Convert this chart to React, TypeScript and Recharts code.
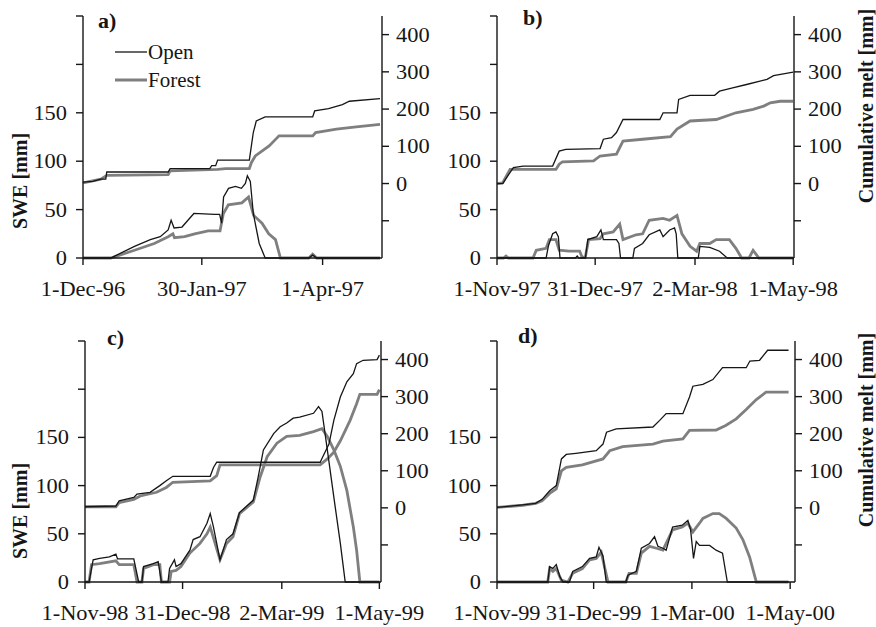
import { Legend, Line, LineChart, XAxis, YAxis } from "recharts";

type Pt = [number, number];

// x values are days since the first tick of each panel
// SWE on the left axis [mm], cumulative melt on the right axis [mm]

// a) winter 1996/97, day 0 = 1-Dec-96
const aTicks = [0, 60, 121];
const aTickLabels = ["1-Dec-96", "30-Jan-97", "1-Apr-97"];
const aOpenSwe: Pt[] = [
  [0, 0], [14, 0], [16, 2], [26, 12], [34, 19], [39, 22], [43, 29], [44.5, 39], [46, 31], [50, 32],
  [53, 39], [56, 46], [66.5, 45], [69, 45], [70, 36], [71, 63], [73.5, 72], [77, 74], [80, 72],
  [82, 77], [83, 85], [84.5, 79], [86, 46], [89, 15], [92, 0], [114, 0], [116, 3], [118, 0], [150, 0],
];
const aForestSwe: Pt[] = [
  [0, 0], [14, 0], [17, 2], [26, 8], [36, 15], [43, 22], [45.4, 25], [46.2, 21], [51.3, 22], [56.4, 25],
  [63.2, 28], [69.2, 28], [70.9, 46], [73.4, 55], [80.2, 57], [83.6, 63], [86.2, 44], [90.4, 36],
  [93.8, 25], [97.2, 19], [99.7, 0], [114, 0], [116, 4], [118, 0], [150, 0],
];
const aOpenCum: Pt[] = [
  [0, 4], [5, 6], [9, 12], [11.5, 12], [12, 31], [43, 31], [44, 40], [64, 40], [65, 48], [67, 48],
  [68, 63], [84, 63], [85, 100], [86, 137], [87.5, 168], [92, 179], [116, 179], [117, 195],
  [124, 201], [131, 212], [134.5, 221], [150, 228],
];
const aForestCum: Pt[] = [
  [0, 2], [9, 12], [12, 22], [43, 24], [44, 34], [68, 38], [72, 40], [84, 40], [85, 56], [87, 74],
  [94, 101], [99, 128], [116, 128], [117.5, 137], [128, 146], [138, 152], [150, 159],
];

// b) winter 1997/98, day 0 = 1-Nov-97
const bTicks = [0, 60, 121, 181];
const bTickLabels = ["1-Nov-97", "31-Dec-97", "2-Mar-98", "1-May-98"];
const bOpenSwe: Pt[] = [
  [0, 0], [30, 0], [31.5, 13], [34, 25], [36, 27], [37.5, 22], [38.5, 0], [48, 0], [49, 2], [50, 0],
  [54, 0], [55.5, 19], [61, 22], [63.5, 29], [65, 19], [73, 19], [74.5, 15], [75.5, 0], [83, 0],
  [84, 10], [89, 15], [93, 24], [99.5, 29], [101.5, 22], [105.5, 29], [108.5, 31], [109.5, 25],
  [110.5, 0], [123, 0], [124, 12], [130, 11], [136, 7], [140, 1], [141, 0], [181, 0],
];
const bForestSwe: Pt[] = [
  [0, 0], [4, 0], [5.5, 2], [7, 0], [22, 0], [24, 8], [30, 10], [32, 19], [36, 19], [38, 8], [44, 7],
  [50.5, 7], [52, 1], [54, 1], [56, 19], [63, 20], [65, 25], [71, 27], [75, 35], [77, 19], [85, 24],
  [89, 25], [93, 39], [101.5, 41], [105.5, 39], [110, 44], [113, 25], [118, 12], [122, 7], [124, 15],
  [130, 15], [134, 19], [142, 19], [146, 10], [149.5, 0], [154, 0], [156.5, 8], [160, 0], [181, 0],
];
const bOpenCum: Pt[] = [
  [0, 0], [3.5, 0], [6.5, 20], [10, 43], [16, 47], [34, 47], [38, 87], [42, 92], [63, 94], [65, 119],
  [70, 123], [73, 137], [77, 172], [99.5, 172], [101.5, 190], [110, 190], [111, 226], [118, 237],
  [133, 237], [136, 248], [144, 257], [152.5, 266], [165, 280], [169, 290], [181, 299],
];
const bForestCum: Pt[] = [
  [0, 0], [3.5, 2], [8, 38], [36, 38], [38, 52], [40, 58], [59, 61], [63, 74], [73, 79], [77, 114],
  [89, 119], [106, 126], [110, 146], [118, 168], [134, 172], [146, 190], [156.5, 199], [163, 208],
  [167, 217], [173, 221], [181, 221],
];

// c) winter 1998/99, day 0 = 1-Nov-98
const cTicks = [0, 60, 121, 181];
const cTickLabels = ["1-Nov-98", "31-Dec-98", "2-Mar-99", "1-May-99"];
const cOpenSwe: Pt[] = [
  [0, 0], [2.5, 0], [5, 23], [9, 24.5], [15, 26], [19, 29], [20, 24], [30, 24], [33, 0], [35, 0],
  [36, 16], [42, 19], [45, 21], [47, 0], [51, 0], [52, 14], [55, 23], [56, 16], [59, 19], [64.5, 33],
  [66.5, 44], [70.7, 47], [75, 61], [77, 71], [79, 57], [83, 23], [87, 44], [91, 50], [95, 72],
  [103.5, 85], [106.5, 109], [109.7, 137], [116, 154], [120, 161], [124, 165], [128, 170], [132, 171],
  [140.5, 175], [143.6, 182], [145.7, 177], [149, 137], [153, 88], [157, 40], [160, 0], [181, 0],
];
const cForestSwe: Pt[] = [
  [0, 0], [2.5, 0], [4, 18], [9, 19], [19, 22], [21, 18], [30, 18], [32, 0], [35, 0], [36, 14],
  [42, 18], [46, 18], [47, 0], [52, 0], [53, 11], [56, 12], [59, 16], [64.5, 30], [70.7, 40], [75, 50],
  [77, 57], [80, 40], [83, 23], [87, 40], [91, 47], [95, 71], [103.5, 83], [107.7, 109], [112, 130],
  [118, 144], [124, 151], [132, 152], [140.5, 156], [145.7, 159], [149, 151], [153, 137], [157, 120],
  [161, 95], [165, 57], [167, 33], [169, 0], [181, 0],
];
const cOpenCum: Pt[] = [
  [0, 3], [19, 5], [21, 19], [30, 28], [32, 37], [40, 42], [46, 60], [50, 73], [54, 85], [77, 85],
  [79, 109], [81, 123], [144.6, 123], [146, 136], [150, 172], [153, 236], [157, 299], [161, 340],
  [165, 362], [167, 389], [171, 398], [179.6, 400], [181, 412],
];
const cForestCum: Pt[] = [
  [0, 3], [19, 3], [21, 14], [30, 23], [34, 32], [44, 42], [50, 55], [54, 69], [77, 73], [81, 87],
  [83, 116], [144.6, 116], [149, 132], [153, 150], [157, 181], [163, 236], [167, 281], [169, 306],
  [179.6, 306], [181, 319],
];

// d) winter 1999/2000, day 0 = 1-Nov-99
const dTicks = [0, 60, 121, 182];
const dTickLabels = ["1-Nov-99", "31-Dec-99", "1-Mar-00", "1-May-00"];
const dOpenSwe: Pt[] = [
  [0, 0], [31.5, 0], [32.7, 16], [34.7, 14], [36.8, 18], [39, 5.5], [41, 0], [45, 0], [47, 11],
  [53, 16], [57.5, 24.5], [61.6, 26], [63.3, 36], [65.8, 27], [67.8, 0], [80, 0], [81.3, 7],
  [86.5, 11], [89.6, 35], [94.7, 40], [97.8, 47], [99.9, 37], [103, 35], [105, 33], [109, 57],
  [115, 59], [118.5, 64], [120.2, 54], [122, 24.5], [123.7, 42], [125.7, 38], [132, 38], [136, 33],
  [140, 30], [143, 0], [181, 0],
];
const dForestSwe: Pt[] = [
  [0, 0], [31.5, 0], [32.7, 14], [34.7, 11], [36.8, 14], [39.9, 2], [44, 0], [47, 9], [53, 14],
  [57.5, 23], [61.6, 24.5], [64.7, 31], [68.9, 0], [80, 0], [82, 9], [86.5, 9], [89.6, 30], [94.7, 37],
  [99, 35], [103, 33], [109, 54], [115, 57], [118.5, 61], [121.6, 52], [125.7, 61], [127.8, 66],
  [134, 71], [138, 71], [142.3, 66], [148.5, 56], [152.6, 44], [156.8, 26], [161, 0], [181, 0],
];
const dOpenCum: Pt[] = [
  [0, 1], [16, 8], [24, 12], [28, 23], [32.7, 46], [36.8, 60], [40, 132], [43, 144], [49, 147],
  [61.6, 154], [65.8, 172], [68, 204], [74, 213], [96.8, 218], [101, 236], [105, 254], [115.4, 254],
  [119.5, 299], [121.6, 328], [127.8, 333], [134, 346], [140, 378], [154.7, 378], [157, 396],
  [163, 398], [168, 425], [181, 425],
];
const dForestCum: Pt[] = [
  [0, 1], [16, 7], [24, 12], [28, 19], [32.7, 39], [36.8, 51], [40, 100], [43, 109], [53, 116],
  [65.8, 132], [70, 154], [78, 165], [96.8, 172], [103, 180], [115.4, 186], [119.5, 209], [136, 210],
  [142, 222], [148.5, 240], [154.7, 265], [161, 292], [167, 312], [181, 312],
];

const sweTicks = [0, 50, 100, 150, 200, 250];
const cumTicks = [-100, 0, 100, 200, 300, 400];

const FONT = '"Liberation Serif", "Times New Roman", serif';
const INK = "#161616";
const GRAY = "#7f7f7f";
const Y_W = 60;
const TOP = 10;
const X_H = 50;
// the printed figure's type is a little wider than Liberation Serif
const STRETCH = 1.12;

const pts = (a: Pt[]) => a.map(([d, v]) => ({ d, v }));

function TickText({ x, y, dy, anchor, children }: any) {
  return (
    <text
      transform={`translate(${x},${y}) scale(${STRETCH},1)`}
      dy={dy}
      textAnchor={anchor}
      fontFamily={FONT}
      fontSize={20}
      fill={INK}
    >
      {children}
    </text>
  );
}

function SweTick({ x, y, payload }: any) {
  if (payload.value > 150) return <g />;
  return <TickText x={x - 9} y={y} dy={7} anchor="end">{payload.value}</TickText>;
}

function CumTick({ x, y, payload }: any) {
  if (payload.value < 0) return <g />;
  return <TickText x={x + 7} y={y} dy={7} anchor="start">{payload.value}</TickText>;
}

function makeDateTick(ticks: number[], labels: string[]) {
  return function DateTick({ x, y, payload }: any) {
    const label = labels[ticks.indexOf(payload.value)] ?? "";
    return <TickText x={x} y={y} dy={31} anchor="middle">{label}</TickText>;
  };
}

function SeriesLegend() {
  const row = (name: string, color: string, w: number) => (
    <div key={name} style={{ display: "flex", alignItems: "center", height: 28 }}>
      <svg width={32} height={28}>
        <line x1={0} x2={32} y1={14} y2={14} stroke={color} strokeWidth={w} />
      </svg>
      <span style={{ fontFamily: FONT, fontSize: 21, color: INK, marginLeft: 1, lineHeight: "28px" }}>{name}</span>
    </div>
  );
  return (
    <div>
      {row("Open", INK, 1.3)}
      {row("Forest", GRAY, 3)}
    </div>
  );
}

interface PanelProps {
  left: number;
  top: number;
  plotW: number;
  plotH: number;
  xMax: number;
  ticks: number[];
  tickLabels: string[];
  openSwe: Pt[];
  forestSwe: Pt[];
  openCum: Pt[];
  forestCum: Pt[];
  legend?: boolean;
}

function Panel(p: PanelProps) {
  const width = Y_W + p.plotW + Y_W;
  const height = TOP + p.plotH + X_H;
  const axisStyle = { stroke: INK, strokeWidth: 1.4 };
  return (
    <div style={{ position: "absolute", left: p.left - Y_W, top: p.top - TOP }}>
      <LineChart width={width} height={height} margin={{ top: TOP, right: 0, bottom: 0, left: 0 }}>
        <XAxis
          dataKey="d"
          type="number"
          domain={[0, p.xMax]}
          ticks={p.ticks}
          height={X_H}
          tickSize={7}
          tickMargin={0}
          axisLine={axisStyle}
          tickLine={axisStyle}
          tick={makeDateTick(p.ticks, p.tickLabels)}
          interval={0}
        />
        <YAxis
          yAxisId="swe"
          orientation="left"
          type="number"
          domain={[0, 250]}
          ticks={sweTicks}
          width={Y_W}
          tickSize={7}
          tickMargin={0}
          axisLine={axisStyle}
          tickLine={axisStyle}
          tick={<SweTick />}
          interval={0}
        />
        <YAxis
          yAxisId="cum"
          orientation="right"
          type="number"
          domain={[-200, 450]}
          ticks={cumTicks}
          width={Y_W}
          tickSize={7}
          tickMargin={0}
          axisLine={axisStyle}
          tickLine={axisStyle}
          tick={<CumTick />}
          interval={0}
        />
        {p.legend && (
          <Legend
            layout="vertical"
            align="center"
            verticalAlign="middle"
            content={<SeriesLegend />}
            wrapperStyle={{ left: 92, top: 32, width: 120, height: 56 }}
          />
        )}
        <Line yAxisId="cum" data={pts(p.forestCum)} dataKey="v" type="linear" stroke={GRAY} strokeWidth={2.8} dot={false} isAnimationActive={false} />
        <Line yAxisId="swe" data={pts(p.forestSwe)} dataKey="v" type="linear" stroke={GRAY} strokeWidth={2.8} dot={false} isAnimationActive={false} />
        <Line yAxisId="cum" data={pts(p.openCum)} dataKey="v" type="linear" stroke={INK} strokeWidth={1.3} dot={false} isAnimationActive={false} />
        <Line yAxisId="swe" data={pts(p.openSwe)} dataKey="v" type="linear" stroke={INK} strokeWidth={1.3} dot={false} isAnimationActive={false} />
      </LineChart>
    </div>
  );
}

export default function App() {
  const title = { fontFamily: FONT, fontSize: 20, fontWeight: 700, fill: INK } as const;
  const letter = { fontFamily: FONT, fontSize: 22, fontWeight: 700, fill: INK } as const;
  return (
    <div style={{ position: "absolute", left: 0, top: 0, width: 876, height: 627, background: "#fff", overflow: "hidden" }}>
      <Panel left={83} top={16} plotW={299} plotH={242} xMax={151} ticks={aTicks} tickLabels={aTickLabels}
        openSwe={aOpenSwe} forestSwe={aForestSwe} openCum={aOpenCum} forestCum={aForestCum} legend />
      <Panel left={497} top={16} plotW={297} plotH={242} xMax={181.5} ticks={bTicks} tickLabels={bTickLabels}
        openSwe={bOpenSwe} forestSwe={bForestSwe} openCum={bOpenCum} forestCum={bForestCum} />
      <Panel left={85} top={341} plotW={296} plotH={241} xMax={182} ticks={cTicks} tickLabels={cTickLabels}
        openSwe={cOpenSwe} forestSwe={cForestSwe} openCum={cOpenCum} forestCum={cForestCum} />
      <Panel left={497} top={341} plotW={298} plotH={241} xMax={185} ticks={dTicks} tickLabels={dTickLabels}
        openSwe={dOpenSwe} forestSwe={dForestSwe} openCum={dOpenCum} forestCum={dForestCum} />
      <svg width={876} height={627} style={{ position: "absolute", left: 0, top: 0, pointerEvents: "none" }}>
        <text x={98} y={28} {...letter}>a)</text>
        <text x={523} y={25} {...letter}>b)</text>
        <text x={107} y={345} {...letter}>c)</text>
        <text x={518} y={343} {...letter}>d)</text>
        <text transform="translate(27,181) rotate(-90)" textAnchor="middle" {...title}>SWE [mm]</text>
        <text transform="translate(27,511) rotate(-90)" textAnchor="middle" {...title}>SWE [mm]</text>
        <text transform="translate(873,106) rotate(-90)" textAnchor="middle" {...title}>Cumulative melt [mm]</text>
        <text transform="translate(873,430) rotate(-90)" textAnchor="middle" {...title}>Cumulative melt [mm]</text>
      </svg>
    </div>
  );
}
